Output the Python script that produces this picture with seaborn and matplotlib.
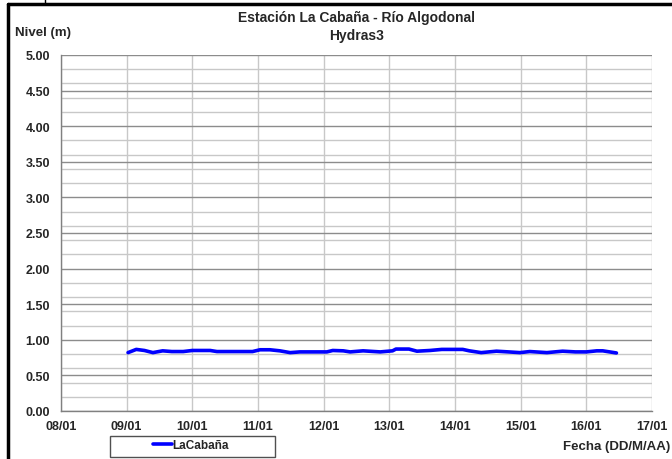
import matplotlib
matplotlib.use("Agg")
import matplotlib.pyplot as plt
import matplotlib.dates as mdates
from matplotlib.lines import Line2D
from matplotlib.patches import Rectangle
import numpy as np
import pandas as pd
import seaborn as sns

# Water level series, station La Cabaña (Hydras3)
times = [
    "2014-01-09 00:30", "2014-01-09 03:30", "2014-01-09 06:30", "2014-01-09 09:35",
    "2014-01-09 13:10", "2014-01-09 16:30", "2014-01-09 20:40", "2014-01-10 00:00",
    "2014-01-10 06:30", "2014-01-10 08:10", "2014-01-10 09:00", "2014-01-10 15:00",
    "2014-01-10 22:00", "2014-01-11 00:45", "2014-01-11 04:20", "2014-01-11 08:00",
    "2014-01-11 11:45", "2014-01-11 15:20", "2014-01-11 20:00", "2014-01-12 01:10",
    "2014-01-12 03:20", "2014-01-12 07:10", "2014-01-12 09:40", "2014-01-12 14:25",
    "2014-01-12 20:40", "2014-01-13 01:10", "2014-01-13 02:25", "2014-01-13 07:10",
    "2014-01-13 10:05", "2014-01-13 14:50", "2014-01-13 19:10", "2014-01-14 00:00",
    "2014-01-14 02:50", "2014-01-14 05:15", "2014-01-14 09:35", "2014-01-14 15:10",
    "2014-01-14 19:30", "2014-01-14 23:45", "2014-01-15 03:20", "2014-01-15 09:35",
    "2014-01-15 15:20", "2014-01-15 20:00", "2014-01-16 00:00", "2014-01-16 03:50",
    "2014-01-16 06:00", "2014-01-16 11:00",
]
nivel = [
    0.82, 0.865, 0.85, 0.82,
    0.845, 0.835, 0.835, 0.85,
    0.85, 0.84, 0.835, 0.835,
    0.835, 0.86, 0.86, 0.845,
    0.82, 0.83, 0.83, 0.83,
    0.85, 0.845, 0.83, 0.845,
    0.83, 0.845, 0.87, 0.87,
    0.84, 0.85, 0.865, 0.865,
    0.865, 0.845, 0.82, 0.84,
    0.83, 0.82, 0.835, 0.82,
    0.84, 0.83, 0.83, 0.845,
    0.845, 0.815,
]
serie = "LaCabaña"
titulo = "Estación La Cabaña - Río Algodonal\nHydras3"
eje_y = "Nivel (m)"
eje_x = "Fecha (DD/M/AA)"

df = pd.DataFrame({"Fecha": pd.to_datetime(times), "Nivel": nivel})

sns.set_theme(style="white")
plt.rcParams["font.family"] = ["Liberation Sans", "DejaVu Sans"]

W, H = 672, 460
fig = plt.figure(figsize=(W / 100, H / 100), dpi=100)
ax = fig.add_axes([61 / W, 48 / H, 591 / W, 356 / H])

sns.lineplot(data=df, x="Fecha", y="Nivel", ax=ax, color="#0000ff",
             linewidth=2.6, label=serie, legend=False, zorder=5)

ax.set_xlim(pd.Timestamp("2014-01-08"), pd.Timestamp("2014-01-17"))
ax.set_ylim(0, 5)
ax.xaxis.set_major_locator(mdates.DayLocator())
ax.xaxis.set_major_formatter(mdates.DateFormatter("%d/%m"))
ax.set_yticks(np.arange(0, 5.01, 0.5))
ax.set_yticks(np.arange(0, 5.01, 0.2), minor=True)
ax.yaxis.set_major_formatter(matplotlib.ticker.FormatStrFormatter("%.2f"))

ax.grid(True, which="major", axis="y", color="#8c8c8c", linewidth=1.0)
ax.grid(True, which="minor", axis="y", color="#c8c8c8", linewidth=1.0)
ax.grid(True, which="major", axis="x", color="#c8c8c8", linewidth=1.0)
ax.set_axisbelow(True)

for s in ["top", "right"]:
    ax.spines[s].set_visible(False)
for s in ["left", "bottom"]:
    ax.spines[s].set_color("#808080")
    ax.spines[s].set_linewidth(1.0)

ax.tick_params(axis="y", which="major", direction="out", length=3,
               width=1, color="#808080", labelsize=9, pad=5)
ax.tick_params(axis="x", which="major", direction="out", length=3,
               width=1, color="#808080", labelsize=9, pad=3.5)
ax.tick_params(axis="y", which="minor", length=0)
for lab in ax.get_xticklabels() + ax.get_yticklabels():
    lab.set_fontweight("bold")
ax.set_xlabel("")
ax.set_ylabel("")

fig.text(357 / W, 1 - 27 / H, titulo, ha="center", va="center",
         fontsize=10, fontweight="bold", linespacing=1.28)
fig.text(15 / W, 1 - 33 / H, eje_y, ha="left", va="center",
         fontsize=9.5, fontweight="bold")
fig.text(670 / W, 1 - 447 / H, eje_x, ha="right", va="center",
         fontsize=9.5, fontweight="bold")

# legend box
fig.add_artist(Rectangle((110 / W, 1 - 458 / H), 165 / W, 21 / H,
                         transform=fig.transFigure, facecolor="white",
                         edgecolor="#505050", linewidth=1.0, zorder=0.5))
handles, labels = ax.get_legend_handles_labels()
leg = fig.legend(handles, labels, loc="center", bbox_to_anchor=(191 / W, 1 - 446 / H),
                 frameon=False, handlelength=1.6, handletextpad=0.05,
                 borderpad=0, prop={"size": 8.5, "weight": "bold"})

# outer frame
fig.add_artist(Line2D([8 / W, 1], [1 - 5 / H, 1 - 5 / H],
                      transform=fig.transFigure, color="black", linewidth=2.5))
fig.add_artist(Line2D([8 / W, 8 / W], [0, 1 - 5 / H],
                      transform=fig.transFigure, color="black", linewidth=2.5))
fig.add_artist(Line2D([45 / W, 45 / W], [1 - 5 / H, 1],
                      transform=fig.transFigure, color="black", linewidth=1.0))

fig.savefig("out.png", dpi=100, facecolor="white")
